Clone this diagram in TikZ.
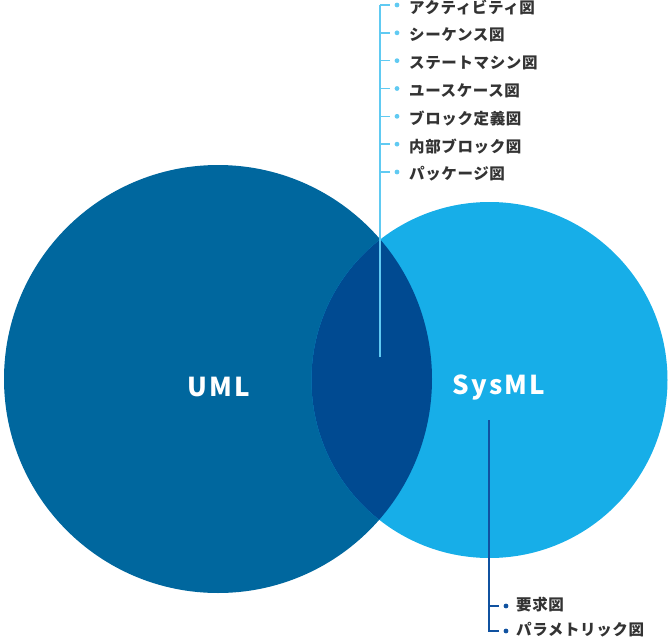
\documentclass[tikz,border=0pt]{standalone}
\usepackage{fontspec}
\setmainfont{Noto Sans CJK JP}
\usetikzlibrary{positioning}

\definecolor{umlblue}{RGB}{0,103,158}
\definecolor{sysblue}{RGB}{23,174,232}
\definecolor{lensblue}{RGB}{0,74,145}
\definecolor{skyline}{RGB}{96,202,242}
\definecolor{navyline}{RGB}{16,82,160}
\definecolor{itemtext}{RGB}{51,51,51}

\tikzset{
  setlabel/.style={text=white,font=\fontsize{26}{26}\selectfont\bfseries\addfontfeatures{LetterSpace=8},inner sep=0pt},
  item/.style={anchor=west,text=itemtext,inner sep=0pt,font=\fontsize{15.5}{15.5}\selectfont\bfseries\addfontfeatures{LetterSpace=4}},
  skybar/.style={draw=skyline,line width=1.6pt},
  navybar/.style={draw=navyline,line width=1.6pt},
}

\begin{document}
\begin{tikzpicture}[x=1pt,y=-1pt]
\path[use as bounding box] (0,0) rectangle (670,637);
% sets
\fill[umlblue] (218,379) circle[radius=214pt];
\fill[sysblue] (489.5,380) circle[radius=178pt];
\begin{scope}
\clip (218,379) circle[radius=214pt];
\fill[lensblue] (489.5,380) circle[radius=178pt];
\end{scope}
\node[setlabel] (uml) at (219,387) {UML};
\node[setlabel] (sysml) at (499,387) {SysML};
% shared diagrams
\coordinate (topend) at (380,357);
\coordinate (topstart) at (380,5);
\draw[skybar] (topend) -- (topstart);
\foreach \txt [count=\i from 0] in {アクティビティ図,シーケンス図,ステートマシン図,ユースケース図,ブロック定義図,内部ブロック図,パッケージ図}{
  \node[item] (shared\i) at (409,{5+27.83*\i+2}) {\txt};
  \draw[skybar] (topstart |- shared\i.west) ++(0,-2) -- ++(10,0);
  \fill[skyline] ([xshift=-12pt,yshift=2pt]shared\i.west) circle[radius=2.4pt];
}
% sysml only
\coordinate (botstart) at (489,420);
\node[item] (req) at (516,605) {要求図};
\node[item] (param) at (516,630) {パラメトリック図};
\draw[navybar] (botstart) -- ([xshift=-27pt,yshift=-1pt]param.west) -- ++(10,0);
\draw[navybar] ([xshift=-27pt,yshift=-1pt]req.west) -- ++(10,0);
\fill[navyline] ([xshift=-10pt,yshift=-1pt]req.west) circle[radius=2.4pt];
\fill[navyline] ([xshift=-10pt,yshift=-1pt]param.west) circle[radius=2.4pt];
\end{tikzpicture}
\end{document}
